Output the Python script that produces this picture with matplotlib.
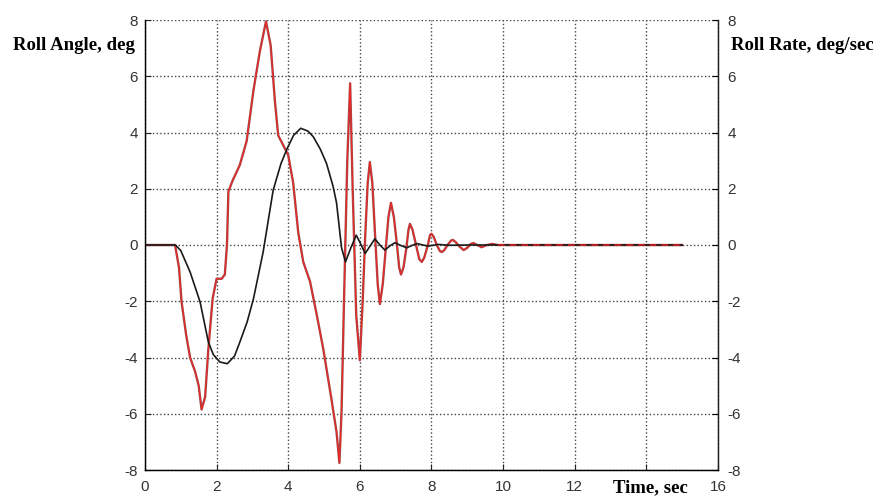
import matplotlib
matplotlib.use('Agg')
import matplotlib.pyplot as plt
import matplotlib.patheffects as pe

plt.rcParams['axes.unicode_minus'] = False

# Roll angle (black)
angle_t = [0, 0.85, 1.0, 1.26, 1.54, 1.77, 1.91, 2.09, 2.3, 2.5, 2.65, 2.85, 3.03, 3.3,
           3.58, 3.8, 3.96, 4.15, 4.35, 4.55, 4.7, 4.9, 5.07, 5.25, 5.35, 5.49, 5.6,
           5.75, 5.9, 6.02, 6.15, 6.28, 6.42, 6.56, 6.7, 6.84, 6.98, 7.15, 7.31, 7.45,
           7.6, 7.9, 8.2, 8.5, 9.0, 15.0]
angle_deg = [0, 0, -0.2, -0.96, -2.03, -3.45, -3.9, -4.16, -4.22, -3.95, -3.45, -2.75,
             -1.91, -0.25, 1.95, 2.9, 3.4, 3.9, 4.15, 4.05, 3.85, 3.4, 2.9, 2.1, 1.5,
             -0.1, -0.6, -0.1, 0.35, 0.05, -0.3, -0.05, 0.22, 0.0, -0.18, -0.03, 0.08,
             -0.02, -0.1, -0.02, 0.05, -0.04, 0.02, -0.01, 0, 0]

# Roll rate (red)
rate_t = [0, 0.84, 0.95, 1.02, 1.15, 1.26, 1.40, 1.50, 1.58, 1.68, 1.77, 1.89, 2.0,
          2.14, 2.23, 2.29, 2.33, 2.45, 2.56, 2.65, 2.84, 3.03, 3.21, 3.38, 3.51, 3.63,
          3.72, 3.86, 4.0, 4.14, 4.28, 4.42, 4.61, 4.8, 4.98, 5.21, 5.35, 5.43, 5.49,
          5.56, 5.65, 5.73, 5.8, 5.9, 6.0, 6.08, 6.15, 6.22, 6.28, 6.35, 6.42, 6.5,
          6.56, 6.64, 6.72, 6.8, 6.87, 6.95, 7.03, 7.1, 7.15, 7.22, 7.3, 7.36, 7.40,
          7.47, 7.57, 7.66, 7.73, 7.8, 7.9, 7.96, 8.0, 8.06, 8.15, 8.24, 8.29, 8.36,
          8.45, 8.55, 8.6, 8.68, 8.78, 8.9, 9.0, 9.1, 9.17, 9.28, 9.4, 9.55, 9.7, 9.85,
          12.0, 15.0]
rate_dps = [0, 0, -0.8, -2.0, -3.2, -4.0, -4.5, -5.0, -5.85, -5.4, -3.7, -1.9, -1.2,
            -1.2, -1.05, 0, 1.9, 2.3, 2.6, 2.85, 3.7, 5.5, 6.9, 7.95, 7.1, 5.1, 3.9,
            3.55, 3.2, 2.2, 0.45, -0.6, -1.3, -2.5, -3.7, -5.5, -6.65, -7.75, -5.9,
            -1.9, 3.0, 5.75, 2.0, -2.5, -4.1, -2.0, 0.3, 2.2, 2.95, 2.2, 0.5, -1.4,
            -2.1, -1.4, -0.2, 1.0, 1.5, 1.0, 0.1, -0.8, -1.05, -0.8, -0.1, 0.55, 0.75,
            0.55, 0.0, -0.5, -0.6, -0.45, 0.0, 0.35, 0.4, 0.3, 0.0, -0.22, -0.25, -0.18,
            0.0, 0.16, 0.18, 0.1, -0.05, -0.18, -0.1, 0.04, 0.07, 0.0, -0.08, 0.0, 0.04,
            0.0, 0, 0]

x_ticks = [0, 2, 4, 6, 8, 10, 12, 14, 16]
x_labels = ['0', '2', '4', '6', '8', '10', '12', '', '16']
y_ticks = [-8, -6, -4, -2, 0, 2, 4, 6, 8]

fig = plt.figure(figsize=(8.76, 5.0), dpi=100)
ax = fig.add_axes([0.1655, 0.06, 0.654, 0.9])

red_fx = [pe.Stroke(linewidth=1.7, foreground='#a04848'), pe.Normal()]
ax.plot(rate_t, rate_dps, color='#ff2020', lw=0.6, path_effects=red_fx, zorder=3)
ax.plot(angle_t, angle_deg, color='#1a1a1a', lw=1.2, zorder=4)

# dashed red tail drawn over the black line where both sit on zero
tail = [i for i, t in enumerate(rate_t) if t >= 9.85]
ax.plot([rate_t[i] for i in tail], [rate_dps[i] for i in tail], color='#d02020',
        lw=1.2, ls=(0, (4, 3)), zorder=5)

ax.set_xlim(0, 16)
ax.set_ylim(-8, 8)
ax.set_xticks(x_ticks)
ax.set_yticks(y_ticks)
ax.set_xticklabels(x_labels)
ax.grid(True, ls=':', color='#444444', lw=1.0)
ax.spines['top'].set_visible(False)
for s in ['left', 'bottom', 'right']:
    ax.spines[s].set_linewidth(1.0)
    ax.spines[s].set_color('#222222')
ax.tick_params(direction='in', length=4, labelsize=11, colors='#222222',
               labelcolor='#333333', pad=5)
ax.tick_params(axis='x', pad=7)
for lab in ax.get_xticklabels() + ax.get_yticklabels():
    lab.set_fontfamily('Liberation Sans')

ax2 = ax.twinx()
ax2.set_ylim(-8, 8)
ax2.set_yticks(y_ticks)
ax2.spines['top'].set_visible(False)
ax2.spines['right'].set_color('#222222')
ax2.tick_params(direction='in', length=4, labelsize=11, labelcolor='#333333', pad=7)
for lab in ax2.get_yticklabels():
    lab.set_fontfamily('Liberation Sans')

fig.text(0.084, 0.91, 'Roll Angle, deg', ha='center', va='center',
         fontsize=13.5, fontweight='bold', family='Liberation Serif')
fig.text(0.834, 0.91, 'Roll Rate, deg/sec', ha='left', va='center',
         fontsize=13.5, fontweight='bold', family='Liberation Serif')
fig.text(0.742, 0.024, 'Time, sec', ha='center', va='center',
         fontsize=13.5, fontweight='bold', family='Liberation Serif')

fig.savefig('out.png', dpi=100)
